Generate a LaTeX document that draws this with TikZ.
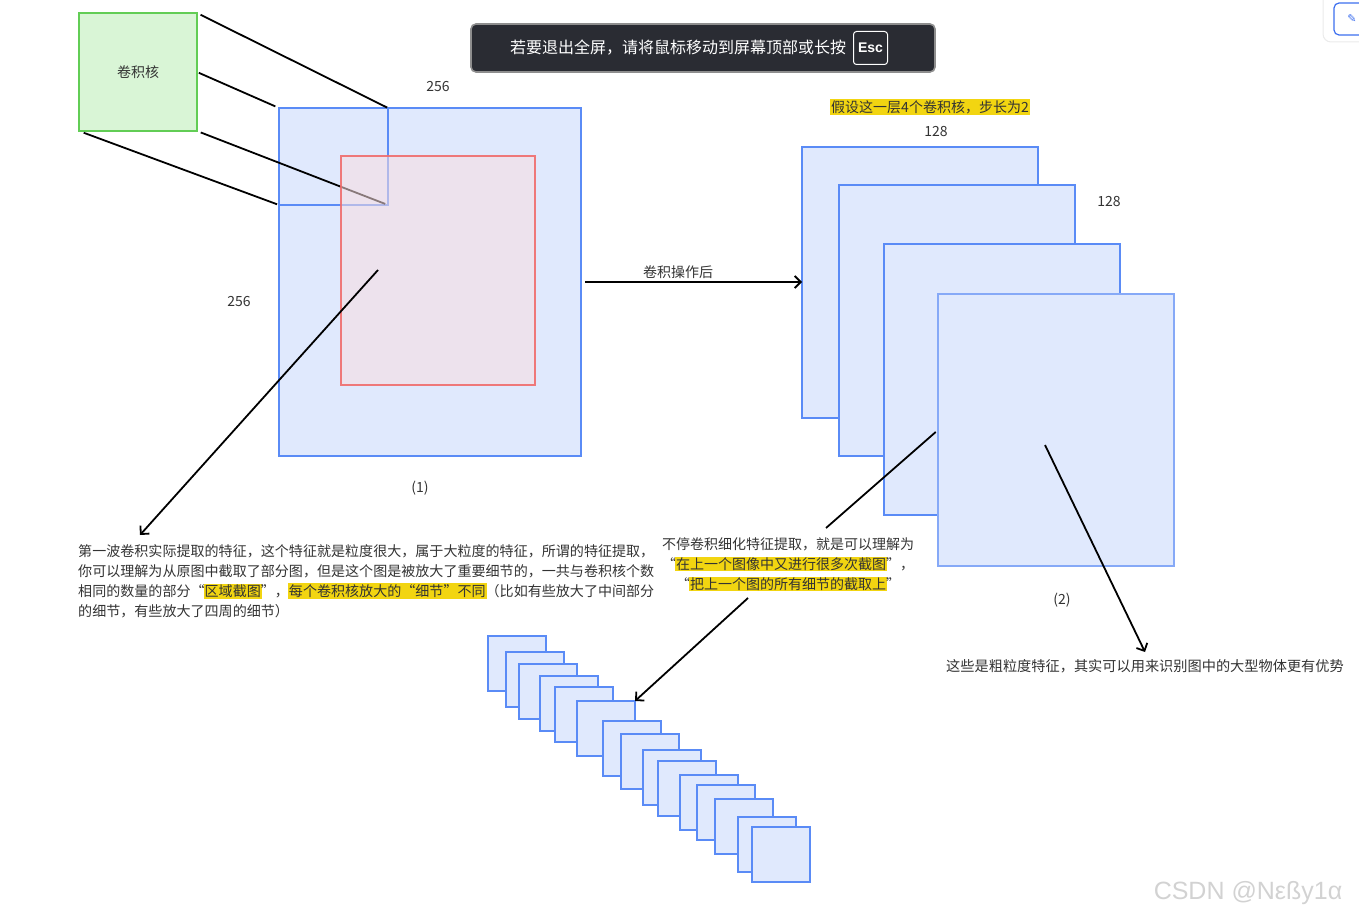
\documentclass[tikz,border=0pt]{standalone}
\usepackage{fontspec}
\setmainfont{Noto Sans CJK SC}
\newfontfamily\wmfont{Liberation Sans}
\newfontfamily\symfont{DejaVu Sans}
\usetikzlibrary{arrows.meta}
\definecolor{bfill}{HTML}{E0E9FD}
\definecolor{bline}{HTML}{5A8BF6}
\definecolor{b4line}{HTML}{86A9F7}
\definecolor{gfill}{HTML}{D9F5D6}
\definecolor{gline}{HTML}{62CD55}
\definecolor{rline}{HTML}{F06C6C}
\definecolor{rfill}{HTML}{F8DDE0}
\definecolor{hly}{HTML}{F2D511}
\definecolor{txt}{HTML}{333333}
\definecolor{bannerbg}{HTML}{2A2C33}
\definecolor{bannerln}{HTML}{8E8E8E}
\definecolor{wmgray}{HTML}{D2D2D2}
\definecolor{btnblue}{HTML}{3D6FEF}
\newcommand{\hlt}[1]{{\setlength{\fboxsep}{1pt}\kern-1pt\colorbox{hly}{\vphantom{国}#1}\kern-1pt}}
\tikzset{
  x=1pt, y=-1pt,
  box/.style={rectangle, anchor=north west, inner sep=0pt, outer sep=0pt},
  bluebox/.style={box, fill=bfill, draw=bline, line width=2pt},
  lbl/.style={text=txt, font=\fontsize{14}{18}\selectfont, inner sep=0pt},
  para/.style={lbl, font=\fontsize{14.05}{18}\selectfont, anchor=west},
  conn/.style={line width=1.8pt, black},
  arr/.style={conn, -{Straight Barb[length=6pt,width=12pt,line width=1.8pt]}},
}
\begin{document}
\begin{tikzpicture}
\useasboundingbox (0,0) rectangle (1359,917);

% kernel
\node[box, fill=gfill, draw=gline, line width=2pt, minimum width=118, minimum height=118] (k) at (79,13) {};
\node[lbl] (klbl) at (k.center) {卷积核};

% original image
\node[bluebox, minimum width=302, minimum height=348] (big) at (279,108) {};
\node[bluebox, minimum width=109, minimum height=97] (ks) at (279,108) {};

\draw[conn, shorten <=4pt, shorten >=1pt] (k.north east) -- (ks.north east);
\draw[conn, shorten <=2pt, shorten >=4pt] (k.east) -- (ks.north west);
\draw[conn, shorten <=4pt, shorten >=3pt] (k.south east) -- (ks.south east);
\draw[conn, shorten <=5pt, shorten >=2pt] (k.south west) -- (ks.south west);

\node[box, fill=rfill, fill opacity=0.55, draw=rline, draw opacity=0.9, line width=2pt, minimum width=194, minimum height=229] (red) at (341,156) {};

\node[lbl] (w256) at (438,87) {256};
\node[lbl] (h256) at (239,302) {256};
\node[lbl] (l1) at (420,488) {(1)};

% left paragraph
\node[para] (p1) at (78,551) {第一波卷积实际提取的特征，这个特征就是粒度很大，属于大粒度的特征，所谓的特征提取，};
\node[para] (p2) at (78,571) {你可以理解为从原图中截取了部分图，但是这个图是被放大了重要细节的，一共与卷积核个数};
\node[para] (p3) at (78,591) {相同的数量的部分“\hlt{区域截图}”，\hlt{每个卷积核放大的“细节”不同}（比如有些放大了中间部分};
\node[para] (p4) at (78,611) {的细节，有些放大了四周的细节）};

\coordinate (redpt) at (378,270);
\coordinate (p1top) at (140,535);
\draw[arr] (redpt) -- (p1top);

% convolution arrow
\coordinate (convstart) at (585,282);
\node[lbl] (convlbl) at (678,272) {卷积操作后};

% feature maps
\node[bluebox, minimum width=236, minimum height=271] (r1) at (802,147) {};
\node[bluebox, minimum width=236, minimum height=271] (r2) at (839,185) {};
\node[bluebox, minimum width=236, minimum height=271] (r3) at (884,244) {};
\node[bluebox, draw=b4line, line width=2.6pt, minimum width=236, minimum height=272] (r4) at (938,294) {};
\draw[arr] (convstart) -- (r1.west |- convstart);

\node[lbl, fill=hly, inner sep=1pt] (assume) at (930,107) {假设这一层4个卷积核，步长为2};
\node[lbl] (w128) at (936,132) {128};
\node[lbl] (h128) at (1109,202) {128};
\node[lbl] (l2) at (1062,600) {(2)};

% middle paragraph
\node[lbl] (m1) at (788,544) {不停卷积细化特征提取，就是可以理解为};
\node[lbl] (m2) at (788,564) {“\hlt{在上一个图像中又进行很多次截图}”，};
\node[lbl] (m3) at (788,584) {“\hlt{把上一个图的所有细节的截取上}”};

\coordinate (m1top) at (826,528);
\draw[conn, shorten <=3pt] (r4.west) -- (m1top);

\coordinate (r4pt) at (1045,445);
\coordinate (rtxtop) at (1145,652);
\draw[arr] (r4pt) -- (rtxtop);
\node[lbl, font=\fontsize{14.2}{18}\selectfont] (rtxt) at (1145,666) {这些是粗粒度特征，其实可以用来识别图中的大型物体更有优势};

% small squares
\foreach \i/\px/\py in {1/488/636, 2/506/652, 3/519/664, 4/540/676, 5/555/687, 6/577/701, 7/603/721, 8/621/734, 9/643/750, 10/658/761, 11/680/775, 12/697/785, 13/715/799, 14/738/817, 15/752/827}
  \node[bluebox, line width=1.8pt, minimum width=58, minimum height=55] (s\i) at (\px,\py) {};

\coordinate (m3bot) at (748,598);
\draw[arr] (m3bot) -- (s6.north east);

% banner
\node[rectangle, rounded corners=5pt, fill=bannerbg, draw=bannerln, line width=1.6pt, minimum width=464, minimum height=48] (banner) at (703,48) {};
\node[text=white, font=\fontsize{16}{20}\selectfont, inner sep=0pt] (bantxt) at (678,48) {若要退出全屏，请将鼠标移动到屏幕顶部或长按};
\node[rectangle, rounded corners=3pt, draw=white, line width=1pt, minimum width=34, minimum height=33, text=white, font=\wmfont\bfseries\fontsize{14}{16}\selectfont, inner sep=0pt] (esc) at (870.5,48) {Esc};

% top-right button
\node[box, rounded corners=8pt, fill=white, draw=black!8, line width=1pt, minimum width=60, minimum height=52] (btn) at (1323,-10) {};
\node[box, rounded corners=5pt, draw=btnblue, line width=1.2pt, minimum width=40, minimum height=32] (btnin) at (1334,3) {};
\node[text=btnblue, font=\symfont\fontsize{11}{12}\selectfont, inner sep=0pt] (pen) at (1352,19) {✎};

% watermark
\node[text=wmgray, font=\wmfont\fontsize{25}{28}\selectfont, inner sep=0pt] (wm) at (1248,893) {CSDN @Nεßy1α};
\end{tikzpicture}
\end{document}
